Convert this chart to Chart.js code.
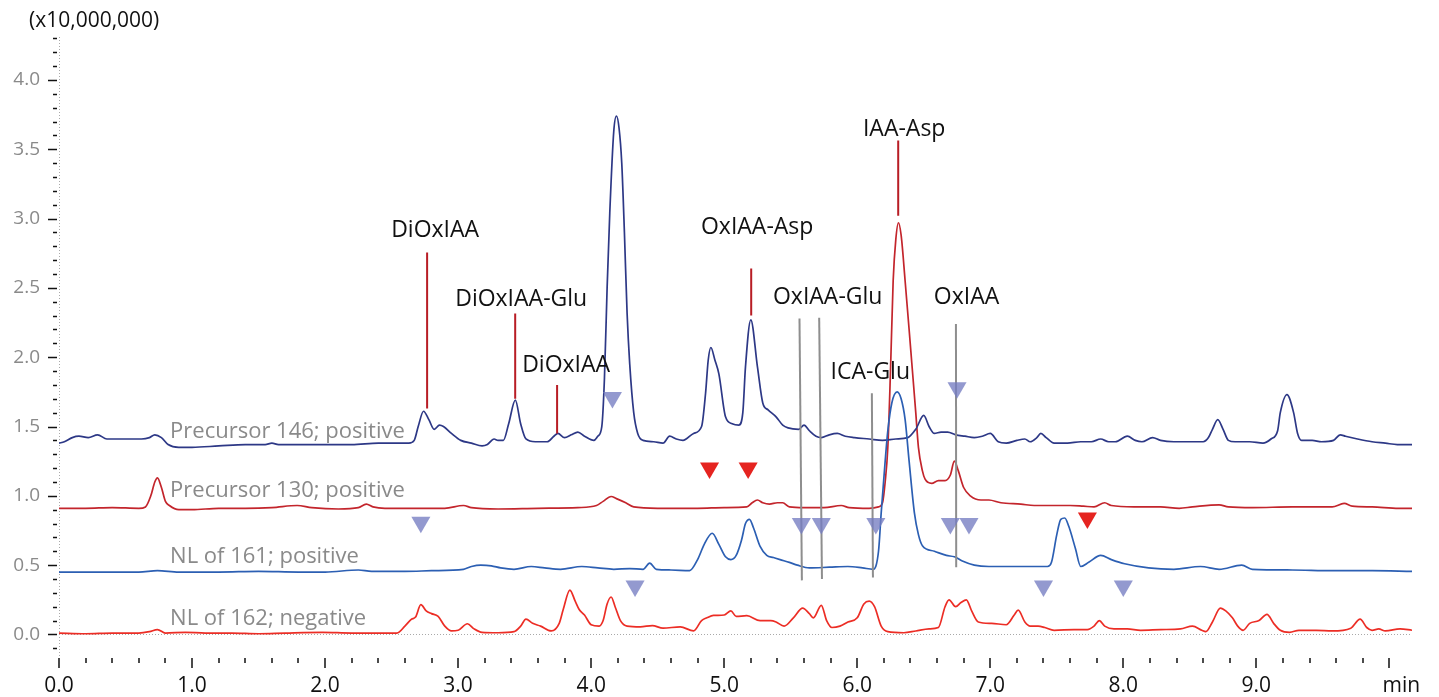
<!DOCTYPE html>
<html>
<head>
<meta charset="utf-8">
<title>Chromatogram</title>
<script src="https://cdn.jsdelivr.net/npm/chart.js@4.4.1/dist/chart.umd.min.js"></script>
<style>
  body { margin: 0; background: #fff; }
  canvas { display: block; }
</style>
</head>
<body>
<canvas id="chrom" width="1439" height="697"></canvas>
<script>
'use strict';

// [retention time (min), intensity (x10,000,000)]
var prec146 = [
  [0, 1.38], [0.04, 1.39], [0.1, 1.42], [0.15, 1.43], [0.22, 1.42], [0.29, 1.44], [0.36, 1.41], [0.5, 1.41],
  [0.62, 1.41], [0.68, 1.42], [0.72, 1.44], [0.77, 1.42], [0.82, 1.37], [0.9, 1.35], [1.0, 1.35], [1.2, 1.36],
  [1.4, 1.37], [1.55, 1.37], [1.6, 1.38], [1.65, 1.37], [1.8, 1.37], [2.0, 1.37], [2.2, 1.37], [2.4, 1.38],
  [2.55, 1.38], [2.63, 1.38], [2.67, 1.40], [2.70, 1.50], [2.74, 1.61], [2.78, 1.55], [2.82, 1.48], [2.86, 1.51],
  [2.89, 1.50], [2.95, 1.45], [3.02, 1.40], [3.1, 1.38], [3.18, 1.36], [3.22, 1.37], [3.27, 1.41], [3.30, 1.40],
  [3.34, 1.40], [3.38, 1.52], [3.43, 1.69], [3.47, 1.52], [3.51, 1.41], [3.58, 1.39], [3.67, 1.39], [3.72, 1.43],
  [3.75, 1.45], [3.80, 1.42], [3.85, 1.44], [3.90, 1.46], [3.95, 1.43], [4.02, 1.40], [4.05, 1.43], [4.08, 1.50],
  [4.10, 1.85], [4.12, 2.5], [4.14, 3.04], [4.17, 3.63], [4.19, 3.74], [4.21, 3.65], [4.23, 3.40], [4.25, 2.9],
  [4.27, 2.32], [4.29, 1.95], [4.32, 1.60], [4.35, 1.45], [4.39, 1.40], [4.47, 1.39], [4.54, 1.38], [4.59, 1.43],
  [4.64, 1.41], [4.69, 1.40], [4.77, 1.45], [4.83, 1.50], [4.86, 1.74], [4.88, 1.98], [4.90, 2.07], [4.93, 1.98],
  [4.96, 1.88], [5.01, 1.57], [5.06, 1.52], [5.11, 1.51], [5.14, 1.60], [5.16, 1.93], [5.20, 2.27], [5.25, 1.93],
  [5.29, 1.67], [5.33, 1.62], [5.39, 1.57], [5.44, 1.51], [5.48, 1.49], [5.56, 1.48], [5.60, 1.51], [5.64, 1.47],
  [5.69, 1.43], [5.73, 1.42], [5.79, 1.44], [5.85, 1.45], [5.91, 1.43], [5.98, 1.42], [6.09, 1.41], [6.19, 1.40],
  [6.29, 1.41], [6.38, 1.42], [6.44, 1.48], [6.50, 1.58], [6.54, 1.50], [6.58, 1.45], [6.63, 1.46], [6.68, 1.46],
  [6.74, 1.44], [6.81, 1.43], [6.88, 1.42], [6.94, 1.43], [7.00, 1.45], [7.06, 1.39], [7.12, 1.38], [7.20, 1.40],
  [7.26, 1.41], [7.30, 1.39], [7.35, 1.42], [7.38, 1.45], [7.42, 1.42], [7.48, 1.38], [7.58, 1.38], [7.68, 1.39],
  [7.76, 1.39], [7.83, 1.41], [7.89, 1.39], [7.94, 1.39], [8.03, 1.43], [8.09, 1.40], [8.14, 1.39], [8.22, 1.42],
  [8.28, 1.40], [8.38, 1.39], [8.48, 1.39], [8.60, 1.39], [8.64, 1.42], [8.67, 1.48], [8.71, 1.55], [8.75, 1.48],
  [8.79, 1.40], [8.84, 1.39], [8.95, 1.39], [9.05, 1.38], [9.11, 1.41], [9.16, 1.47], [9.18, 1.60], [9.23, 1.73],
  [9.28, 1.60], [9.31, 1.45], [9.34, 1.40], [9.42, 1.40], [9.49, 1.39], [9.58, 1.40], [9.63, 1.44], [9.67, 1.43],
  [9.76, 1.41], [9.87, 1.39], [9.97, 1.38], [10.06, 1.37], [10.17, 1.37]
];

var prec130 = [
  [0, 0.91], [0.2, 0.91], [0.4, 0.915], [0.6, 0.91], [0.65, 0.92], [0.69, 1.0], [0.72, 1.10], [0.74, 1.13],
  [0.77, 1.06], [0.8, 0.96], [0.83, 0.93], [0.9, 0.90], [1.0, 0.90], [1.2, 0.91], [1.4, 0.91], [1.6, 0.915],
  [1.79, 0.93], [1.9, 0.915], [2.1, 0.905], [2.25, 0.915], [2.31, 0.94], [2.36, 0.92], [2.45, 0.91], [2.7, 0.91],
  [2.9, 0.91], [3.04, 0.93], [3.1, 0.915], [3.3, 0.905], [3.6, 0.91], [3.9, 0.915], [4.04, 0.93], [4.09, 0.96],
  [4.15, 0.995], [4.19, 0.98], [4.26, 0.95], [4.32, 0.92], [4.5, 0.91], [4.8, 0.91], [5.0, 0.915], [5.17, 0.92],
  [5.21, 0.95], [5.25, 0.97], [5.29, 0.95], [5.34, 0.94], [5.40, 0.95], [5.44, 0.95], [5.49, 0.92], [5.6, 0.915],
  [5.75, 0.915], [5.88, 0.93], [5.94, 0.915], [6.09, 0.91], [6.16, 0.92], [6.19, 0.95], [6.21, 1.1], [6.23, 1.35],
  [6.25, 1.9], [6.27, 2.55], [6.29, 2.85], [6.31, 2.97], [6.33, 2.88], [6.36, 2.55], [6.39, 2.2], [6.41, 1.96],
  [6.44, 1.6], [6.46, 1.35], [6.49, 1.18], [6.51, 1.12], [6.56, 1.09], [6.61, 1.11], [6.66, 1.11], [6.70, 1.15],
  [6.73, 1.25], [6.76, 1.18], [6.80, 1.06], [6.85, 1.0], [6.93, 0.97], [6.99, 0.97], [7.08, 0.95], [7.23, 0.94],
  [7.33, 0.93], [7.48, 0.93], [7.60, 0.93], [7.70, 0.925], [7.78, 0.92], [7.86, 0.95], [7.91, 0.93], [8.08, 0.92],
  [8.28, 0.92], [8.42, 0.91], [8.52, 0.92], [8.72, 0.935], [8.79, 0.92], [8.97, 0.915], [9.27, 0.92], [9.57, 0.92],
  [9.66, 0.945], [9.72, 0.925], [9.87, 0.92], [10.07, 0.91], [10.17, 0.91]
];

var nl161 = [
  [0, 0.45], [0.3, 0.45], [0.6, 0.45], [0.74, 0.46], [0.9, 0.45], [1.2, 0.45], [1.5, 0.455], [1.8, 0.45],
  [2.0, 0.45], [2.25, 0.465], [2.35, 0.455], [2.6, 0.455], [2.8, 0.46], [3.04, 0.47], [3.10, 0.49], [3.17, 0.50],
  [3.25, 0.495], [3.32, 0.48], [3.42, 0.47], [3.55, 0.49], [3.65, 0.48], [3.77, 0.47], [3.93, 0.49], [4.05, 0.48],
  [4.17, 0.47], [4.29, 0.475], [4.39, 0.47], [4.44, 0.515], [4.49, 0.47], [4.6, 0.465], [4.74, 0.46], [4.80, 0.54],
  [4.85, 0.65], [4.91, 0.73], [4.96, 0.65], [5.01, 0.56], [5.05, 0.54], [5.09, 0.57], [5.13, 0.68], [5.16, 0.80],
  [5.19, 0.83], [5.22, 0.77], [5.27, 0.635], [5.32, 0.57], [5.37, 0.555], [5.42, 0.54], [5.49, 0.52], [5.55, 0.50],
  [5.64, 0.48], [5.79, 0.485], [5.93, 0.49], [6.04, 0.48], [6.12, 0.47], [6.16, 0.6], [6.18, 0.875], [6.21, 1.25],
  [6.23, 1.47], [6.26, 1.67], [6.30, 1.75], [6.33, 1.70], [6.36, 1.55], [6.39, 1.25], [6.43, 0.875], [6.46, 0.72],
  [6.49, 0.64], [6.58, 0.60], [6.67, 0.57], [6.73, 0.56], [6.79, 0.53], [6.88, 0.50], [6.99, 0.49], [7.12, 0.49],
  [7.28, 0.49], [7.43, 0.49], [7.46, 0.52], [7.50, 0.72], [7.53, 0.83], [7.56, 0.84], [7.59, 0.78], [7.64, 0.62],
  [7.68, 0.49], [7.74, 0.52], [7.83, 0.57], [7.91, 0.54], [8.01, 0.51], [8.19, 0.48], [8.38, 0.47], [8.58, 0.49],
  [8.72, 0.47], [8.89, 0.50], [8.97, 0.47], [9.27, 0.465], [9.57, 0.46], [9.87, 0.46], [10.17, 0.455]
];

var nl162 = [
  [0, 0.01], [0.2, 0.005], [0.4, 0.01], [0.6, 0.01], [0.68, 0.02], [0.74, 0.035], [0.8, 0.01], [0.95, 0.015],
  [1.1, 0.01], [1.3, 0.01], [1.5, 0.005], [1.7, 0.01], [1.98, 0.015], [2.2, 0.01], [2.4, 0.01], [2.54, 0.01],
  [2.6, 0.06], [2.65, 0.11], [2.68, 0.125], [2.72, 0.215], [2.76, 0.17], [2.80, 0.15], [2.85, 0.13], [2.90, 0.06],
  [2.95, 0.025], [3.00, 0.03], [3.07, 0.077], [3.12, 0.04], [3.18, 0.015], [3.3, 0.012], [3.42, 0.02], [3.47, 0.06],
  [3.51, 0.11], [3.56, 0.08], [3.62, 0.06], [3.70, 0.025], [3.76, 0.08], [3.79, 0.18], [3.84, 0.32], [3.88, 0.24],
  [3.91, 0.18], [3.95, 0.14], [4.00, 0.07], [4.06, 0.06], [4.09, 0.10], [4.12, 0.22], [4.15, 0.27], [4.18, 0.20],
  [4.22, 0.10], [4.27, 0.06], [4.37, 0.055], [4.46, 0.064], [4.54, 0.045], [4.67, 0.055], [4.77, 0.025], [4.83, 0.10],
  [4.87, 0.12], [4.92, 0.137], [5.00, 0.14], [5.05, 0.17], [5.09, 0.13], [5.17, 0.135], [5.27, 0.10], [5.35, 0.10],
  [5.39, 0.09], [5.45, 0.06], [5.52, 0.12], [5.59, 0.19], [5.64, 0.15], [5.67, 0.12], [5.73, 0.21], [5.77, 0.10],
  [5.81, 0.05], [5.87, 0.06], [5.93, 0.09], [6.00, 0.12], [6.05, 0.22], [6.09, 0.24], [6.13, 0.20], [6.18, 0.06],
  [6.23, 0.02], [6.35, 0.012], [6.44, 0.025], [6.54, 0.04], [6.61, 0.05], [6.66, 0.20], [6.69, 0.25], [6.74, 0.20],
  [6.78, 0.23], [6.82, 0.25], [6.86, 0.17], [6.91, 0.09], [7.01, 0.08], [7.12, 0.07], [7.18, 0.14], [7.21, 0.175],
  [7.26, 0.09], [7.30, 0.06], [7.36, 0.06], [7.41, 0.05], [7.48, 0.03], [7.63, 0.035], [7.73, 0.035], [7.78, 0.06],
  [7.82, 0.10], [7.86, 0.06], [7.93, 0.04], [8.03, 0.04], [8.13, 0.03], [8.28, 0.035], [8.43, 0.04], [8.52, 0.06],
  [8.59, 0.03], [8.62, 0.02], [8.67, 0.09], [8.73, 0.19], [8.77, 0.17], [8.82, 0.12], [8.86, 0.06], [8.90, 0.03],
  [8.95, 0.08], [9.02, 0.10], [9.08, 0.145], [9.13, 0.08], [9.18, 0.03], [9.25, 0.015], [9.32, 0.03], [9.45, 0.03],
  [9.57, 0.025], [9.71, 0.045], [9.78, 0.11], [9.83, 0.05], [9.87, 0.03], [9.92, 0.04], [9.97, 0.025], [10.08, 0.04],
  [10.17, 0.03]
];

var traceNames = ['Precursor 146; positive', 'Precursor 130; positive', 'NL of 161; positive', 'NL of 162; negative'];
var traceLabelAt = [[0.835, 1.42], [0.835, 0.99], [0.835, 0.515], [0.835, 0.065]];

// identified peaks: red marker lines [time, top, bottom]
var peakNames = ['DiOxIAA', 'DiOxIAA-Glu', 'DiOxIAA', 'OxIAA-Asp', 'IAA-Asp'];
var peakLines = [[2.767, 2.756, 1.63], [3.429, 2.316, 1.70], [3.744, 1.80, 1.45], [5.203, 2.64, 2.30], [6.308, 3.564, 3.02]];
var peakLabelAt = [[2.827, 2.87], [3.474, 2.37], [3.812, 1.89], [5.248, 2.886], [6.353, 3.593]];

// candidate peaks: grey lines [time top, top, time bottom, bottom]
var candNames = ['OxIAA-Glu', 'ICA-Glu', 'OxIAA'];
var candLines = [[5.566, 2.28, 5.584, 0.39], [5.714, 2.285, 5.735, 0.40], [6.11, 1.74, 6.118, 0.41], [6.742, 2.24, 6.744, 0.485]];
var candLabelAt = [[5.778, 2.386], [6.098, 1.845], [6.822, 2.386]];

// triangle markers
var blueMarks = [[2.72, 0.81], [4.16, 1.71], [4.33, 0.35], [5.58, 0.80], [5.73, 0.80], [6.14, 0.80],
  [6.70, 0.80], [6.84, 0.80], [6.75, 1.78], [7.40, 0.35], [8.00, 0.35]];
var redMarks = [[4.89, 1.20], [5.18, 1.20], [7.73, 0.84]];

var xLabels = ['0.0', '1.0', '2.0', '3.0', '4.0', '5.0', '6.0', '7.0', '8.0', '9.0', 'min'];
var yLabels = ['0.0', '0.5', '1.0', '1.5', '2.0', '2.5', '3.0', '3.5', '4.0'];

var FONT = '"Open Sans", "Noto Sans", sans-serif';

function toPoints(pairs) {
  return pairs.map(function(p) {
    return { x: p[0], y: p[1] };
  });
}

function trace(pairs, color) {
  return {
    type: 'line',
    data: toPoints(pairs),
    borderColor: color,
    borderWidth: 1.7,
    pointRadius: 0,
    cubicInterpolationMode: 'monotone'
  };
}

function segment(a, b, color) {
  return {
    type: 'line',
    data: [a, b],
    borderColor: color,
    borderWidth: 2,
    pointRadius: 0
  };
}

function marks(pairs, color) {
  return {
    type: 'scatter',
    data: toPoints(pairs),
    pointStyle: 'triangle',
    rotation: 180,
    radius: 11,
    backgroundColor: color,
    borderWidth: 0
  };
}

var datasets = [];
datasets.push(marks(blueMarks, 'rgba(116, 124, 194, 0.78)'));
datasets.push(marks(redMarks, '#e52420'));
candLines.forEach(function(l) {
  datasets.push(segment({ x: l[0], y: l[1] }, { x: l[2], y: l[3] }, '#8e8e8e'));
});
peakLines.forEach(function(l) {
  datasets.push(segment({ x: l[0], y: l[1] }, { x: l[0], y: l[2] }, '#b81d25'));
});
datasets.push(trace(nl161, '#2c5fb3'));
datasets.push(trace(prec146, '#2d3886'));
datasets.push(trace(prec130, '#c3252c'));
datasets.push(trace(nl162, '#ec2d25'));

// axis ticks, dotted lines and all the text
var decor = {
  id: 'decor',
  beforeDatasetsDraw: function(chart) {
    var ctx = chart.ctx;
    var area = chart.chartArea;
    var y0 = Math.round(chart.scales.y.getPixelForValue(0)) + 0.5;
    ctx.save();
    ctx.strokeStyle = '#a9a9a9';
    ctx.lineWidth = 1;
    ctx.setLineDash([1, 2]);
    ctx.beginPath();
    ctx.moveTo(area.left + 0.5, area.top);
    ctx.lineTo(area.left + 0.5, area.bottom);
    ctx.moveTo(area.left, y0);
    ctx.lineTo(area.right, y0);
    ctx.stroke();
    ctx.restore();
  },
  afterDatasetsDraw: function(chart) {
    var ctx = chart.ctx;
    var sx = chart.scales.x;
    var sy = chart.scales.y;
    ctx.save();
    ctx.textBaseline = 'alphabetic';

    ctx.font = '22px ' + FONT;
    ctx.fillStyle = '#8a8a8a';
    ctx.textAlign = 'left';
    traceNames.forEach(function(name, i) {
      ctx.fillText(name, sx.getPixelForValue(traceLabelAt[i][0]), sy.getPixelForValue(traceLabelAt[i][1]));
    });

    ctx.font = '23px ' + FONT;
    ctx.fillStyle = '#111';
    ctx.textAlign = 'center';
    peakNames.forEach(function(name, i) {
      ctx.fillText(name, sx.getPixelForValue(peakLabelAt[i][0]), sy.getPixelForValue(peakLabelAt[i][1]));
    });
    candNames.forEach(function(name, i) {
      ctx.fillText(name, sx.getPixelForValue(candLabelAt[i][0]), sy.getPixelForValue(candLabelAt[i][1]));
    });
    ctx.restore();
  },
  afterDraw: function(chart) {
    var ctx = chart.ctx;
    var area = chart.chartArea;
    var sx = chart.scales.x;
    var sy = chart.scales.y;
    ctx.save();
    ctx.strokeStyle = '#111';
    ctx.lineWidth = 1.5;
    ctx.beginPath();
    sy.ticks.forEach(function(t) {
      var py = Math.round(sy.getPixelForValue(t.value)) + 0.5;
      ctx.moveTo(area.left - (t.major ? 11 : 6), py);
      ctx.lineTo(area.left - 2, py);
    });
    sx.ticks.forEach(function(t) {
      var px = Math.round(sx.getPixelForValue(t.value));
      ctx.moveTo(px, area.bottom);
      ctx.lineTo(px, area.bottom + (t.major ? 10 : 5));
    });
    ctx.stroke();

    ctx.textBaseline = 'middle';
    ctx.textAlign = 'right';
    ctx.font = '19px ' + FONT;
    ctx.fillStyle = '#8a8a8a';
    yLabels.forEach(function(lab, i) {
      ctx.fillText(lab, area.left - 19, sy.getPixelForValue(i * 0.5));
    });

    ctx.textAlign = 'center';
    ctx.font = '21px ' + FONT;
    ctx.fillStyle = '#111';
    xLabels.forEach(function(lab, i) {
      var px = sx.getPixelForValue(i);
      if (lab === 'min') px += 12;
      ctx.fillText(lab, px, area.bottom + 28);
    });

    ctx.textAlign = 'left';
    ctx.textBaseline = 'alphabetic';
    ctx.fillText('(x10,000,000)', 29, 27);
    ctx.restore();
  }
};

function minorTicks(step, majorEvery) {
  return function(scale) {
    var ticks = [];
    var n0 = Math.ceil(scale.min / step - 1e-9);
    var n1 = Math.floor(scale.max / step + 1e-9);
    for (var n = n0; n <= n1; n++) {
      ticks.push({ value: n * step, major: n % majorEvery === 0 });
    }
    scale.ticks = ticks;
  };
}

var chart = new Chart(document.getElementById('chrom'), {
  type: 'line',
  data: { datasets: datasets },
  options: {
    responsive: false,
    animation: false,
    devicePixelRatio: 1,
    layout: { padding: { top: 37, right: 27, left: 0, bottom: 0 } },
    plugins: {
      legend: { display: false },
      tooltip: { enabled: false }
    },
    scales: {
      x: {
        type: 'linear',
        min: 0,
        max: 10.17,
        grid: { display: false },
        border: { display: false },
        ticks: { display: false },
        afterBuildTicks: minorTicks(0.2, 5),
        afterFit: function(scale) { scale.height = 39; }
      },
      y: {
        type: 'linear',
        min: -0.17,
        max: 4.31,
        grid: { display: false },
        border: { display: false },
        ticks: { display: false },
        afterBuildTicks: minorTicks(0.1, 5),
        afterFit: function(scale) { scale.width = 59; }
      }
    }
  },
  plugins: [decor]
});
</script>
</body>
</html>
